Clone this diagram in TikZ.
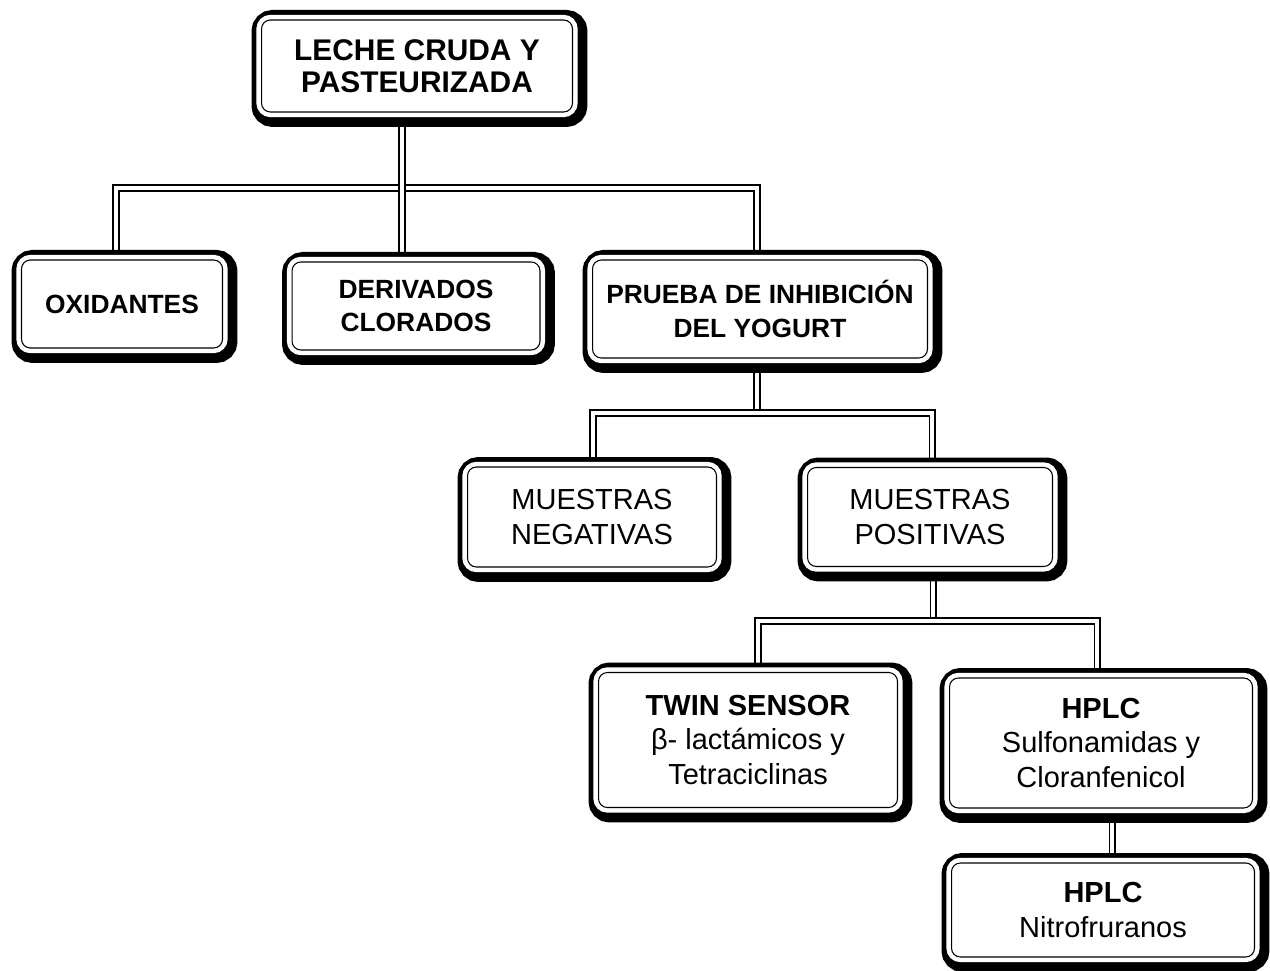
\documentclass[tikz,border=0pt]{standalone}
\usepackage{fontspec}
\setmainfont{Liberation Sans}
\usetikzlibrary{backgrounds,positioning,calc}

\begin{document}
\begin{tikzpicture}[
    x=0.02cm, y=-0.02cm,
    boxnode/.style={rectangle, rounded corners=5pt, draw=black, line width=0.6pt, fill=white, align=center, inner sep=0pt,
        preaction={draw=black, line width=14.2pt, transform canvas={shift={(1.4pt,-1.4pt)}}},
        preaction={draw=white, fill=white, line width=5.8pt}},
    bignode/.style={boxnode, font=\fontsize{17}{18.5}\selectfont\bfseries},
    boldnode/.style={boxnode, font=\fontsize{15}{19}\selectfont\bfseries},
    plainnode/.style={boxnode, font=\fontsize{16.5}{19.5}\selectfont},
    linkline/.style={draw=black, line width=0.8pt, double=white, double distance=2.4pt, line join=miter}
    ]
    \useasboundingbox (0,0) rectangle (1270,970);

    %Nodes
    \node[bignode, minimum width=6.22cm, minimum height=1.84cm]   (leche)  at (417,66)   {LECHE CRUDA Y\\PASTEURIZADA};
    \node[boldnode, minimum width=4.02cm, minimum height=1.76cm]  (oxid)   at (122,304)  {OXIDANTES};
    \node[boldnode, minimum width=4.96cm, minimum height=1.76cm]  (deriv)  at (416,306)  {DERIVADOS\\CLORADOS};
    \node[boldnode, minimum width=6.7cm, minimum height=1.96cm]   (prueba) at (760,309)  {PRUEBA DE INHIBICIÓN\\DEL YOGURT};
    \node[plainnode, minimum width=4.98cm, minimum height=2.0cm]  (neg)    at (592,517)  {MUESTRAS\\NEGATIVAS};
    \node[plainnode, minimum width=4.9cm, minimum height=1.98cm]  (pos)    at (930,517)  {MUESTRAS\\POSITIVAS};
    \node[plainnode, minimum width=5.98cm, minimum height=2.7cm]  (twin)   at (748,740)  {\textbf{TWIN SENSOR}\\β- lactámicos y\\Tetraciclinas};
    \node[plainnode, minimum width=6.06cm, minimum height=2.6cm]  (hplcA)  at (1101,743) {\textbf{HPLC}\\Sulfonamidas y\\Cloranfenicol};
    \node[plainnode, minimum width=6.06cm, minimum height=1.88cm] (hplcB)  at (1103,910) {\textbf{HPLC}\\Nitrofruranos};

    % Bus points
    \coordinate (busAl) at (116,188);
    \coordinate (busAm) at (402,188);
    \coordinate (busAr) at (757,188);
    \coordinate (busBl) at (593,413);
    \coordinate (busBm) at (757,413);
    \coordinate (busBr) at (932,413);
    \coordinate (busCl) at (758,621);
    \coordinate (busCm) at (933,621);
    \coordinate (busCr) at (1097,621);
    \coordinate (busD)  at (1112,850);

    %Lines
    \begin{pgfonlayer}{background}
        \draw[linkline] (oxid.north -| busAl) -- (busAl) -- (busAr) -- (prueba.north -| busAr);
        \draw[linkline] (leche.south -| busAm) -- (deriv.north -| busAm);
        \draw[linkline] (prueba.south -| busBm) -- (busBm);
        \draw[linkline] (neg.north -| busBl) -- (busBl) -- (busBr) -- (pos.north -| busBr);
        \draw[linkline] (pos.south -| busCm) -- (busCm);
        \draw[linkline] (twin.north -| busCl) -- (busCl) -- (busCr) -- (hplcA.north -| busCr);
        \draw[linkline] (hplcA.south -| busD) -- (hplcB.north -| busD);
    \end{pgfonlayer}
\end{tikzpicture}
\end{document}
